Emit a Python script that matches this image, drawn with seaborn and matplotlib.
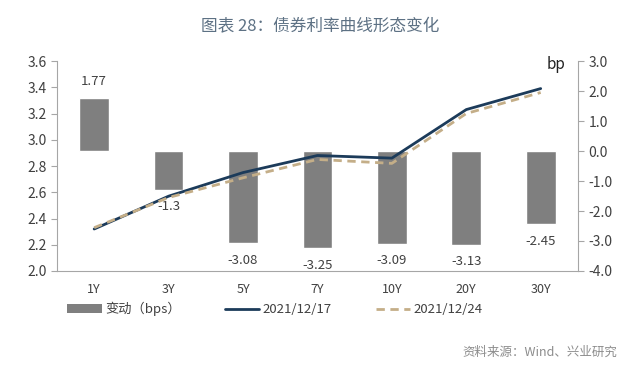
import numpy as np
import pandas as pd
import seaborn as sns
import matplotlib.pyplot as plt
from matplotlib.patches import Patch
from matplotlib.lines import Line2D

sns.set_style('white')
plt.rcParams['font.family'] = ['Noto Sans CJK SC', 'DejaVu Sans']

# dados
tenors = ['1Y', '3Y', '5Y', '7Y', '10Y', '20Y', '30Y']
change_bps = [1.77, -1.3, -3.08, -3.25, -3.09, -3.13, -2.45]
yld_1217 = [2.32, 2.57, 2.75, 2.88, 2.86, 3.23, 3.39]
yld_1224 = [2.33, 2.56, 2.71, 2.85, 2.82, 3.20, 3.36]
left_ticks = [2.0, 2.2, 2.4, 2.6, 2.8, 3.0, 3.2, 3.4, 3.6]
right_ticks = [-4.0, -3.0, -2.0, -1.0, 0.0, 1.0, 2.0, 3.0]

df = pd.DataFrame({'pos': np.arange(len(tenors)), 'tenor': tenors,
                   'chg': change_bps, 'y17': yld_1217, 'y24': yld_1224})

bar_c = '#7f7f7f'
line_c = '#1c3b5a'
dash_c = '#c4ae88'
axis_c = '#a6a6a6'
txt_c = '#404040'

fig = plt.figure(figsize=(6.4, 3.68), dpi=100)
ax = fig.add_axes([0.089, 0.2636, 0.814, 0.5706])
ax2 = ax.twinx()

# barras no eixo direito
sns.barplot(data=df, x='pos', y='chg', ax=ax2, color=bar_c, width=0.4,
            native_scale=True, saturation=1)
for p, v in zip(df['pos'], df['chg']):
    off = 12 if v > 0 else -12
    ax2.annotate(f'{v:g}', (p, v), xytext=(0, off), textcoords='offset points',
                 ha='center', va='center', fontsize=9.5, color=txt_c)

# linhas no eixo esquerdo
sns.lineplot(data=df, x='pos', y='y17', ax=ax, color=line_c, lw=2)
sns.lineplot(data=df, x='pos', y='y24', ax=ax, color=dash_c, lw=2, ls=(0, (3, 2)))

ax.set_zorder(ax2.get_zorder() + 1)
ax.patch.set_visible(False)

ax.set_xlim(-0.5, len(tenors) - 0.5)
ax.set_ylim(2.0, 3.6)
ax2.set_ylim(-4.0, 3.0)
ax.set_yticks(left_ticks)
ax.set_yticklabels([f'{t:.1f}' for t in left_ticks])
ax2.set_yticks(right_ticks)
ax2.set_yticklabels([f'{t:.1f}' for t in right_ticks])
ax.set_xticks(df['pos'])
ax.set_xticklabels(tenors)
ax.set_xticks(np.arange(-0.5, len(tenors), 1), minor=True)
ax.tick_params(axis='x', which='major', length=0, pad=9, labelsize=9, colors=txt_c)
ax.tick_params(axis='x', which='minor', length=4, color=axis_c, direction='out')
ax.tick_params(axis='y', length=4, color=axis_c, labelsize=10, labelcolor=txt_c)
ax2.tick_params(axis='y', length=4, color=axis_c, labelsize=10, labelcolor=txt_c)
for a in (ax, ax2):
    a.set_xlabel('')
    a.set_ylabel('')
    a.spines['top'].set_visible(False)
    for s in ('left', 'right', 'bottom'):
        a.spines[s].set_color(axis_c)
ax.spines['right'].set_visible(False)
ax2.spines['left'].set_visible(False)
ax2.spines['bottom'].set_visible(False)
ax2.tick_params(axis='x', length=0)

fig.text(0.868, 0.826, 'bp', ha='center', va='center', fontsize=11, color='#222222')

fig.text(0.5, 0.927, '图表 28：债券利率曲线形态变化', ha='center', va='center',
         fontsize=12, color='#5d7184')
fig.text(0.965, 0.043, '资料来源：Wind、兴业研究', ha='right', va='center',
         fontsize=9, color='#8c8c8c')

handles = [Patch(facecolor=bar_c, edgecolor='none'),
           Line2D([], [], color=line_c, lw=2),
           Line2D([], [], color=dash_c, lw=2, ls=(0, (3, 2)))]
labels = ['变动（bps）', '2021/12/17', '2021/12/24']
fig.legend(handles, labels, loc='center left', bbox_to_anchor=(0.105, 0.16),
           ncol=3, frameon=False, fontsize=9.5, handlelength=2.6, handleheight=0.6,
           columnspacing=3.3, handletextpad=0.3, labelcolor=txt_c,
           borderpad=0, borderaxespad=0)

fig.savefig('out.png', dpi=100)
